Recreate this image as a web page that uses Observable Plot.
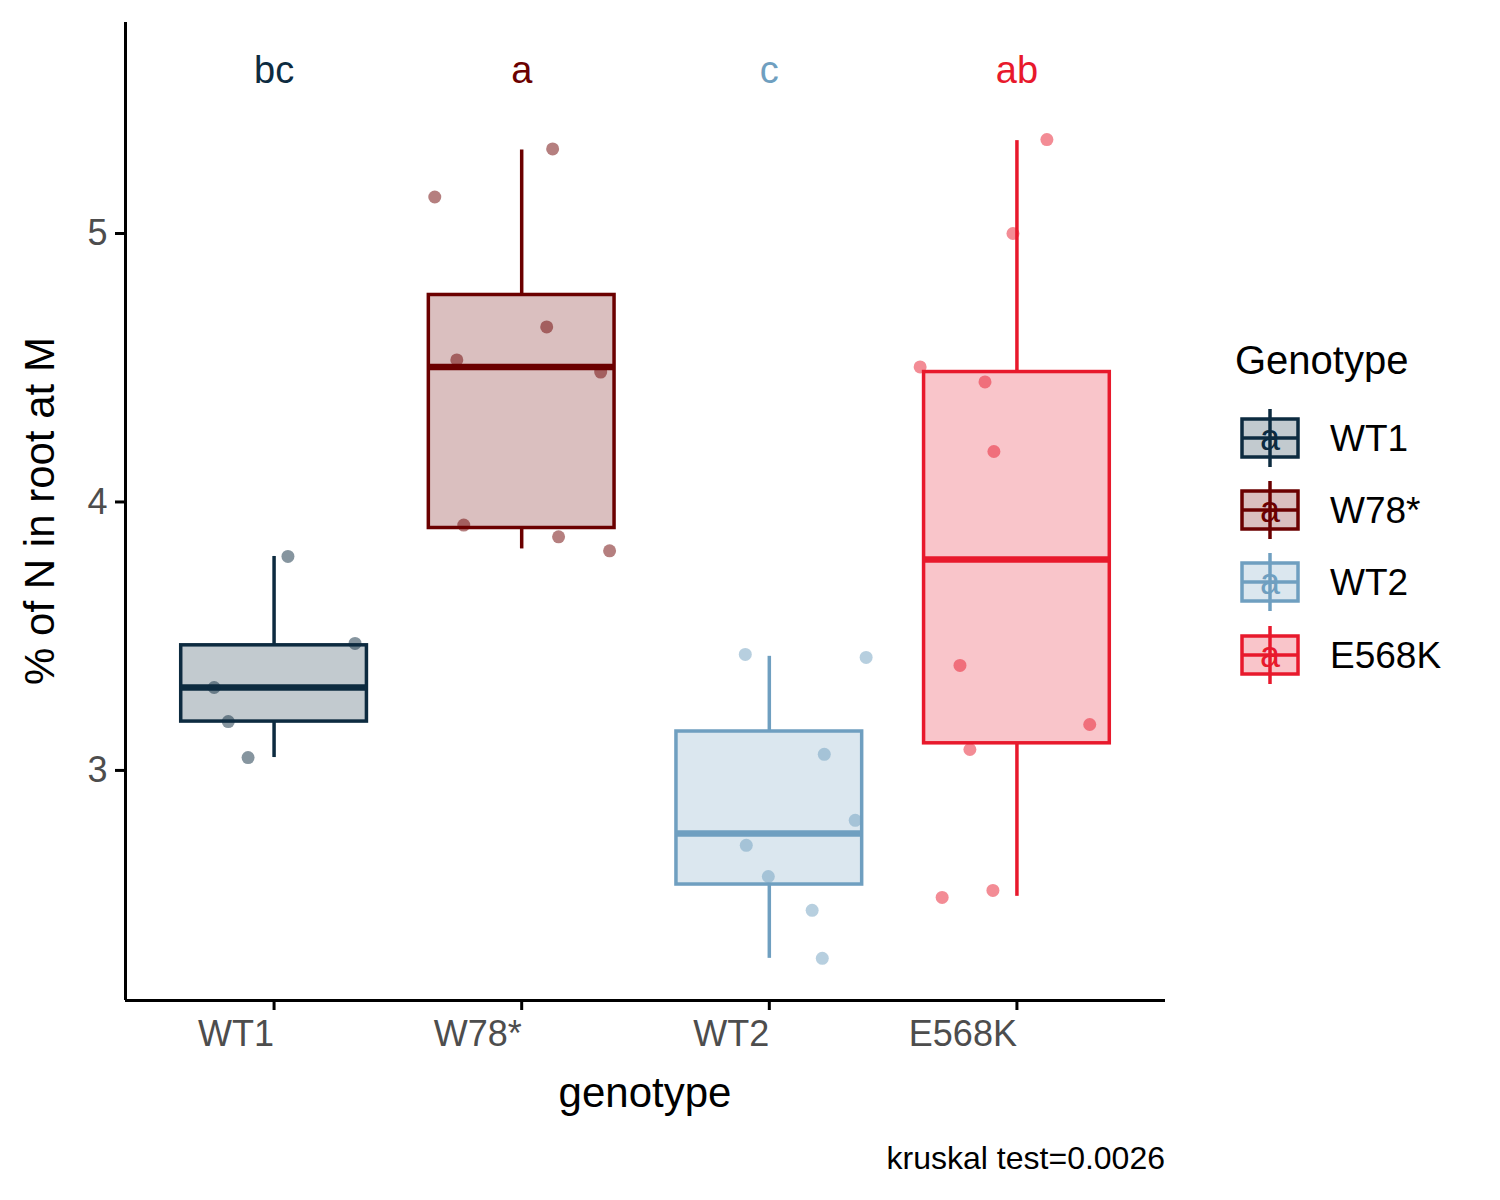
<!DOCTYPE html>
<html><head><meta charset="utf-8">
<script src="https://cdn.jsdelivr.net/npm/d3@7"></script>
<script src="https://cdn.jsdelivr.net/npm/@observablehq/plot@0.6"></script>
<style>body{margin:0;background:#fff;font-family:Arial,"Liberation Sans",sans-serif}#wrap{position:relative;width:1500px;height:1200px}</style>
</head><body><div id="wrap"></div>
<script>
const genotypes=["WT1","W78*","WT2","E568K"];
const colors=["#0d2b40","#6b0000","#6f9fc0","#e8192c"];
const letters=["bc","a","c","ab"];
const q1=[3.182,3.903,2.575,3.101];
const med=[3.309,4.503,2.765,3.786];
const q3=[3.466,4.771,3.145,4.484];
const wlo=[3.048,3.825,2.300,2.531];
const whi=[3.797,5.311,3.425,5.346];
const ptGroup=[0,0,0,0,0, 1,1,1,1,1,1,1,1, 2,2,2,2,2,2,2,2, 3,3,3,3,3,3,3,3,3,3];
const ptValue=[3.797,3.473,3.309,3.182,3.048, 5.315,5.136,4.652,4.529,4.484,3.914,3.870,3.818, 3.432,3.421,3.060,2.814,2.721,2.605,2.479,2.300, 5.350,5.0,4.503,4.447,4.188,3.391,3.171,3.078,2.553,2.527];
const ptJitter=[0.056,0.327,-0.242,-0.185,-0.105, 0.125,-0.351,0.101,-0.262,0.319,-0.234,0.149,0.355, -0.097,0.391,0.222,0.347,-0.093,-0.004,0.173,0.214, 0.121,-0.016,-0.391,-0.129,-0.093,-0.230,0.294,-0.190,-0.097,-0.302];

const boxes=genotypes.map((g,i)=>({i,g,q1:q1[i],med:med[i],q3:q3[i],lo:wlo[i],hi:whi[i],c:colors[i],L:letters[i]}));
const pts=ptValue.map((v,k)=>({x:ptGroup[k]+ptJitter[k],v,c:colors[ptGroup[k]]}));
const hw=0.375;
const chart=Plot.plot({
  width:1500,height:1200,marginLeft:125,marginRight:335,marginTop:22,marginBottom:200,
  style:{fontFamily:"Arial, 'Liberation Sans', sans-serif",background:"white"},
  x:{type:"linear",domain:[-0.6,3.6]},
  y:{domain:[2.143,5.786]},
  marks:[
    Plot.ruleX(boxes,{x:"i",y1:"lo",y2:"q1",stroke:"c",strokeWidth:3.5}),
    Plot.ruleX(boxes,{x:"i",y1:"q3",y2:"hi",stroke:"c",strokeWidth:3.5}),
    Plot.rect(boxes,{x1:d=>d.i-hw,x2:d=>d.i+hw,y1:"q1",y2:"q3",fill:"c",fillOpacity:0.25,stroke:"c",strokeWidth:3.5}),
    Plot.ruleY(boxes,{x1:d=>d.i-hw,x2:d=>d.i+hw,y:"med",stroke:"c",strokeWidth:6.5}),
    Plot.dot(pts,{x:"x",y:"v",r:6.5,fill:"c",fillOpacity:0.5,stroke:"none"}),
    Plot.text(boxes,{x:"i",y:5.607,text:"L",fill:"c",fontSize:38}),
    Plot.axisY({ticks:[3,4,5],tickFormat:"d",tickSize:10,stroke:"black",strokeWidth:3,fontSize:36,fill:"#4d4d4d",tickPadding:8,label:null}),
    Plot.axisX({ticks:[0,1,2,3],tickFormat:i=>genotypes[i],tickSize:10,stroke:"black",strokeWidth:3,fontSize:36,fill:"#4d4d4d",textAnchor:"end",tickPadding:10,label:null}),
    Plot.ruleX([-0.6],{stroke:"black",strokeWidth:3}),
    Plot.ruleY([2.143],{stroke:"black",strokeWidth:3})
  ]
});
const wrap=document.getElementById("wrap");
wrap.appendChild(chart);
function add(html,style){const d=document.createElement("div");d.innerHTML=html;d.style.cssText="position:absolute;white-space:nowrap;color:#000;"+style;wrap.appendChild(d);}
add("% of N in root at M","left:40px;top:511px;font-size:42px;transform:translate(-50%,-50%) rotate(-90deg);");
add("genotype","left:645px;top:1093px;font-size:42px;transform:translate(-50%,-50%);");
add("kruskal test=0.0026","right:335px;top:1158px;font-size:32px;transform:translateY(-50%);");
add("Genotype","left:1235px;top:360px;font-size:40px;transform:translateY(-50%);");
const ys=[438,510,582,655];
let svg='<svg width="1500" height="1200" style="position:absolute;left:0;top:0" xmlns="http://www.w3.org/2000/svg">';
genotypes.forEach((g,i)=>{const y=ys[i],c=colors[i];
 svg+=`<line x1="1270" x2="1270" y1="${y-29}" y2="${y+29}" stroke="${c}" stroke-width="3.5"/>`+
 `<rect x="1242" y="${y-19}" width="56" height="38" fill="${c}" fill-opacity="0.25" stroke="${c}" stroke-width="3.5"/>`+
 `<line x1="1242" x2="1298" y1="${y}" y2="${y}" stroke="${c}" stroke-width="3.5"/>`+
 `<text x="1270" y="${y+12}" text-anchor="middle" font-size="36" fill="${c}" font-family="Arial, Liberation Sans">a</text>`+
 `<text x="1330" y="${y+13}" font-size="37" fill="#000" font-family="Arial, Liberation Sans">${g}</text>`;});
svg+='</svg>';
add(svg,"left:0;top:0;");
</script></body></html>
